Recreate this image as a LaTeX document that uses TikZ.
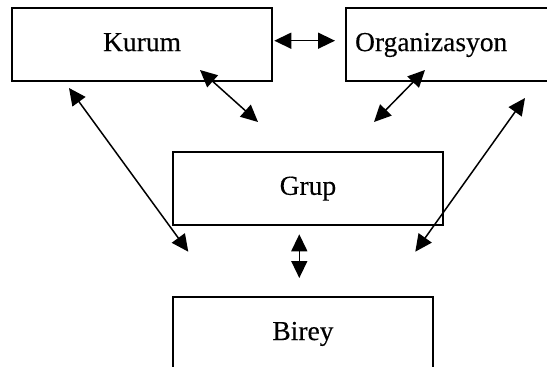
\documentclass[tikz,border=0pt]{standalone}
\usepackage{fontspec}
\setmainfont{Liberation Serif}[FakeBold=0.3]
\usetikzlibrary{arrows.meta}
\tikzset{
  box/.style={draw, line width=2.2pt, rectangle, minimum width=#1, minimum height=73pt,
    anchor=north west, inner sep=0pt, font=\fontsize{27.5pt}{30pt}\selectfont,
    text height=19pt, text depth=6pt},
  link/.style={line width=1.5pt, {Triangle[length=17pt,width=16pt]}-{Triangle[length=17pt,width=16pt]}}
}
\begin{document}
\begin{tikzpicture}[x=1pt,y=-1pt]
\useasboundingbox (0,0) rectangle (547,367);
\node[box=260pt] (kurum) at (11,7) {Kurum};
\node[box=204pt, text width=186pt, align=left, inner xsep=9pt] (org) at (345,7) {Organizasyon};
\node[box=270.3pt] (grup) at (171.7,150.7) {Grup};
\node[box=260.3pt, minimum height=73.5pt] (birey) at (171.7,295.7) {Birey};
% free connector ends
\coordinate (ko1) at (274.3,40.7);
\coordinate (ko2) at (335,40.7);
\coordinate (kg1) at (200,70);
\coordinate (kg2) at (258,122);
\coordinate (og1) at (425,70);
\coordinate (og2) at (374,122);
\coordinate (kb1) at (69,88);
\coordinate (kb2) at (188.3,251.7);
\coordinate (ob1) at (525,98);
\coordinate (ob2) at (415.3,251.7);
\coordinate (gb1) at (299.3,234.3);
\coordinate (gb2) at (299.3,278);
\draw[link] (ko1) -- (ko2);
\draw[link] (kg1) -- (kg2);
\draw[link] (og1) -- (og2);
\draw[link] (kb1) -- (kb2);
\draw[link] (ob1) -- (ob2);
\draw[link] (gb1) -- (gb2);
\end{tikzpicture}
\end{document}
